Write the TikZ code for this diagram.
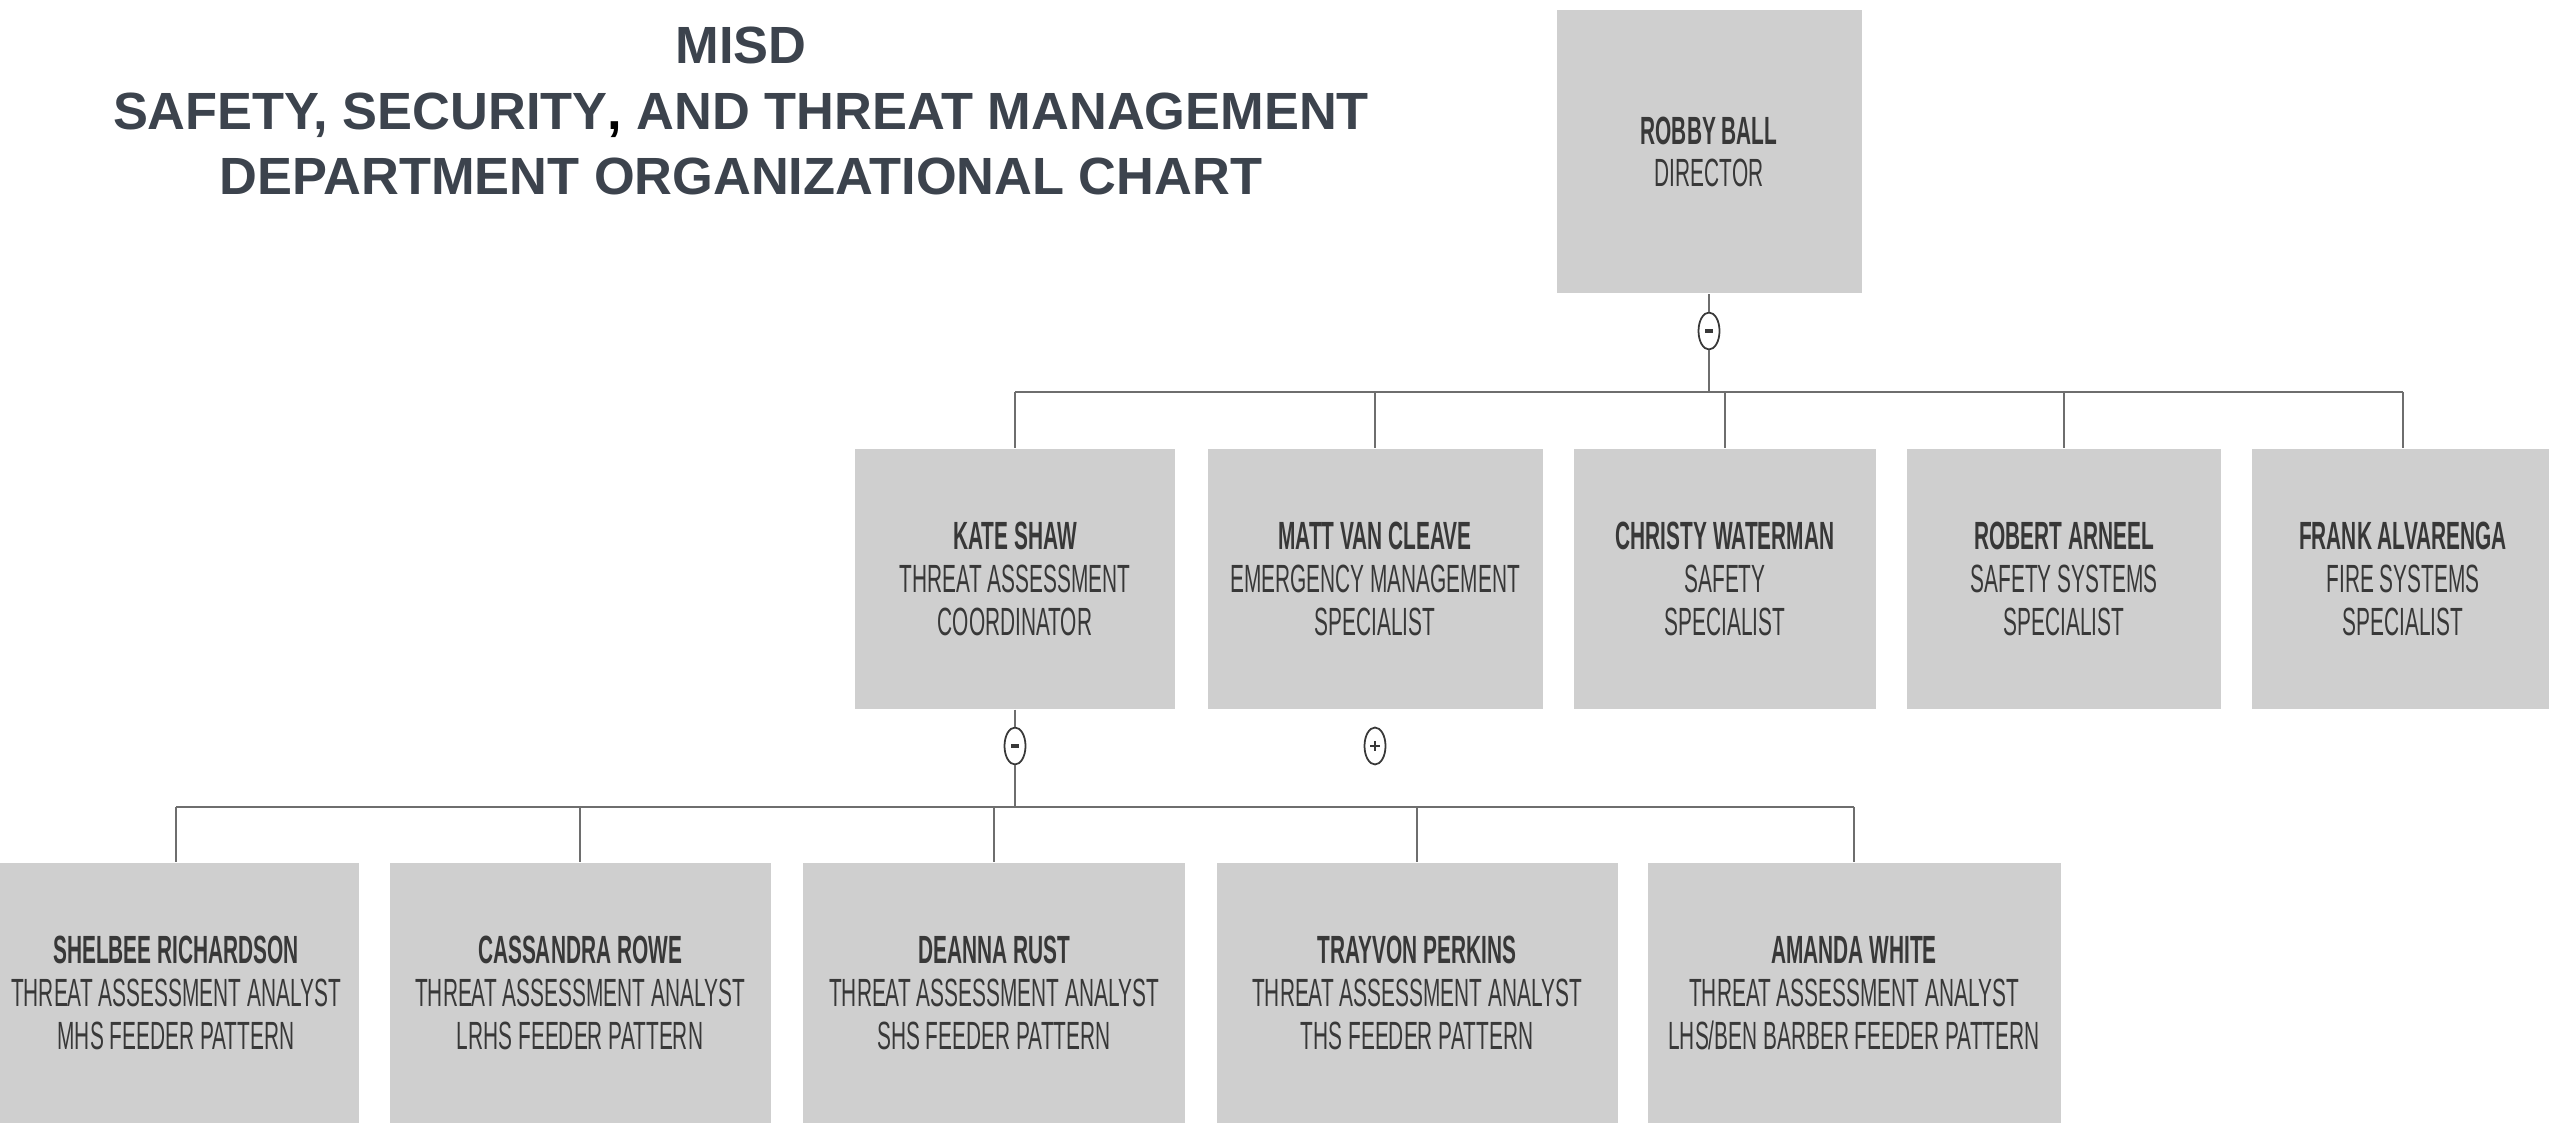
\documentclass[tikz,border=0pt]{standalone}
\usepackage{fontspec}
\setmainfont{Liberation Sans}
\newfontfamily\boxfont[FakeStretch=0.53]{Liberation Sans}
\usetikzlibrary{shapes.geometric}
\definecolor{boxgray}{HTML}{CFCFCF}
\definecolor{titlegray}{HTML}{3C434D}
\definecolor{linegray}{HTML}{6E6E6E}
\definecolor{textgray}{HTML}{383838}

\begin{document}
\begin{tikzpicture}[
    person/.style={fill=boxgray, minimum height=2.6cm, inner sep=0pt, align=center, text=textgray,
        font=\boxfont\fontsize{11.2}{12.2}\selectfont},
    toggle/.style={ellipse, draw=textgray, fill=white, line width=0.5pt, minimum width=0.21cm,
        minimum height=0.37cm, inner sep=0pt},
    conn/.style={draw=linegray, line width=0.7pt}]
    \clip (0,0) rectangle (25.49,-11.24);
    \node[text=titlegray, align=center, font=\bfseries\fontsize{14.9}{18.5}\selectfont] (title) at (7.41,-1.11)
        {MISD\\SAFETY, SECURITY{\color{black},} AND THREAT MANAGEMENT\\DEPARTMENT ORGANIZATIONAL CHART};
    \node[person, minimum width=3.05cm, minimum height=2.83cm] (robby) at (17.09,-1.52) {\textbf{ROBBY BALL}\\DIRECTOR};
    \node[person, minimum width=3.20cm] (kate) at (10.15,-5.79) {\textbf{KATE SHAW}\\THREAT ASSESSMENT\\COORDINATOR};
    \node[person, minimum width=3.35cm] (matt) at (13.75,-5.79) {\textbf{MATT VAN CLEAVE}\\EMERGENCY MANAGEMENT\\SPECIALIST};
    \node[person, minimum width=3.02cm] (christy) at (17.25,-5.79) {\textbf{CHRISTY WATERMAN}\\SAFETY\\SPECIALIST};
    \node[person, minimum width=3.14cm] (robert) at (20.64,-5.79) {\textbf{ROBERT ARNEEL}\\SAFETY SYSTEMS\\SPECIALIST};
    \node[person, minimum width=3.02cm] (frank) at (24.03,-5.79) {\textbf{FRANK ALVARENGA}\\FIRE SYSTEMS\\SPECIALIST};
    \node[person, minimum width=3.66cm] (shelbee) at (1.76,-9.93) {\textbf{SHELBEE RICHARDSON}\\THREAT ASSESSMENT ANALYST\\MHS FEEDER PATTERN};
    \node[person, minimum width=3.81cm] (cassandra) at (5.80,-9.93) {\textbf{CASSANDRA ROWE}\\THREAT ASSESSMENT ANALYST\\LRHS FEEDER PATTERN};
    \node[person, minimum width=3.82cm] (deanna) at (9.94,-9.93) {\textbf{DEANNA RUST}\\THREAT ASSESSMENT ANALYST\\SHS FEEDER PATTERN};
    \node[person, minimum width=4.01cm] (trayvon) at (14.17,-9.93) {\textbf{TRAYVON PERKINS}\\THREAT ASSESSMENT ANALYST\\THS FEEDER PATTERN};
    \node[person, minimum width=4.13cm] (amanda) at (18.54,-9.93) {\textbf{AMANDA WHITE}\\THREAT ASSESSMENT ANALYST\\LHS/BEN BARBER FEEDER PATTERN};

    \node[toggle] (trobby) at (17.09,-3.31) {};
    \node[toggle] (tkate) at (10.15,-7.46) {};
    \node[toggle] (tmatt) at (13.75,-7.46) {};
    \coordinate (busA) at (17.09,-3.92);
    \coordinate (busB) at (10.15,-8.07);

    \draw[conn] (robby) -- (trobby) -- (busA);
    \draw[conn] (kate.north |- busA) -- (frank.north |- busA);
    \foreach \k in {kate,matt,christy,robert,frank}
        \draw[conn] (\k.north |- busA) -- (\k);
    \draw[conn] (kate) -- (tkate) -- (busB);
    \draw[conn] (shelbee.north |- busB) -- (amanda.north |- busB);
    \foreach \k in {shelbee,cassandra,deanna,trayvon,amanda}
        \draw[conn] (\k.north |- busB) -- (\k);

    \draw[textgray, line width=1pt] ([xshift=-0.4mm]trobby.center) -- ([xshift=0.4mm]trobby.center);
    \draw[textgray, line width=1pt] ([xshift=-0.4mm]tkate.center) -- ([xshift=0.4mm]tkate.center);
    \draw[textgray, line width=0.7pt] ([xshift=-0.5mm]tmatt.center) -- ([xshift=0.5mm]tmatt.center)
        ([yshift=-0.5mm]tmatt.center) -- ([yshift=0.5mm]tmatt.center);
\end{tikzpicture}
\end{document}
